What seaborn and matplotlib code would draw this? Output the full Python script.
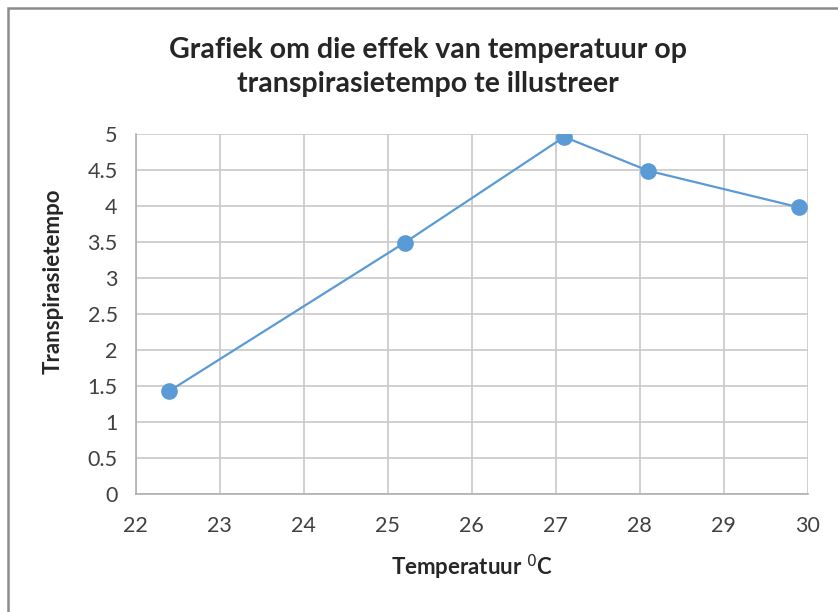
import matplotlib
matplotlib.use("Agg")
from matplotlib import pyplot as plt
from matplotlib.patches import Rectangle
import seaborn as sns
import pandas as pd

temperatuur = [22.4, 25.2, 27.1, 28.1, 29.9]
tempo = [1.43, 3.49, 4.96, 4.49, 3.98]
x_ticks = [22, 23, 24, 25, 26, 27, 28, 29, 30]
y_ticks = [0, 0.5, 1, 1.5, 2, 2.5, 3, 3.5, 4, 4.5, 5]

data = pd.DataFrame({"temperatuur": temperatuur, "tempo": tempo})

sns.set_style("white")
plt.rcParams['font.family'] = ['Lato', 'DejaVu Sans']

fig = plt.figure(figsize=(8.38, 6.12), dpi=100)
ax = fig.add_axes([0.162, 0.193, 0.802, 0.588])

# outer chart frame (only left and top visible in the original)
fig.patches.append(Rectangle((0.0095, -0.1), 1.2, 1.087, transform=fig.transFigure,
                             fill=False, edgecolor='#8c8c8c', linewidth=1.8))

sns.lineplot(data=data, x='temperatuur', y='tempo', ax=ax, color='#5B9BD5',
             linewidth=1.6, marker='o', markersize=12, markeredgewidth=0)

ax.set_xlim(22, 30)
ax.set_ylim(0, 5)
ax.set_xticks(x_ticks)
ax.set_yticks(y_ticks)
ax.set_yticklabels([f"{v:g}" for v in y_ticks])
ax.grid(True, color='#c8c8c8', linewidth=1.2)
ax.set_axisbelow(True)
for side in ['top', 'right']:
    ax.spines[side].set_visible(False)
for side in ['left', 'bottom']:
    ax.spines[side].set_color('#b0b0b0')
    ax.spines[side].set_linewidth(1.2)
ax.tick_params(axis='both', length=6, width=1.2, color='#b0b0b0',
               labelsize=15.5, labelcolor='#404040', direction='out')
ax.tick_params(axis='x', pad=10)
ax.tick_params(axis='y', pad=7)

ax.set_xlabel("Temperatuur $^{0}$C", fontsize=16, fontweight='bold', labelpad=12)
ax.set_ylabel("Transpirasietempo", fontsize=16, fontweight='bold')
ax.yaxis.set_label_coords(-0.107, 0.59)
fig.text(0.511, 0.891, "Grafiek om die effek van temperatuur op\ntranspirasietempo te illustreer",
         ha='center', va='center', fontsize=20.5, fontweight='bold', linespacing=1.4)

fig.savefig("out.png", dpi=100)
